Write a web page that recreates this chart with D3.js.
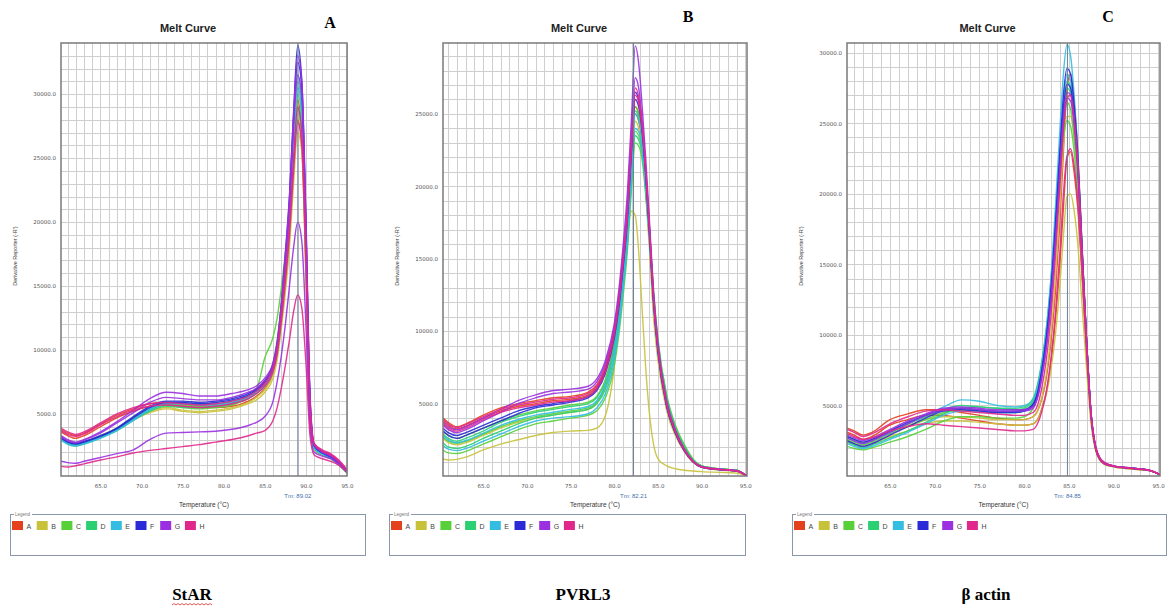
<!DOCTYPE html>
<html>
<head>
<meta charset="utf-8">
<script src="https://cdn.jsdelivr.net/npm/d3@7"></script>
<style>
  body { margin: 0; background: #fff; }
  svg text { font-family: "Liberation Sans", Arial, sans-serif; }
</style>
</head>
<body>
<svg id="chart" width="1172" height="608"></svg>
<script>
// ---- data ----
var geneNames = ["StAR", "PVRL3", "\u03b2 actin"];
var panelLetters = ["A", "B", "C"];
var tmValues = [89.02, 82.21, 84.85];
var xTicks = [65, 70, 75, 80, 85, 90, 95];
var yTicksStAR = [5000, 10000, 15000, 20000, 25000, 30000];
var yTicksPVRL3 = [5000, 10000, 15000, 20000, 25000];
var yTicksActin = [5000, 10000, 15000, 20000, 25000, 30000];

var legendLabels = ["A", "B", "C", "D", "E", "F", "G", "H"];
var legendColors = ["#e4401e", "#c8c23a", "#58d03a", "#2ccf72", "#34bde0", "#2a2ad6", "#9a30e0", "#e0288c"];

// StAR
var tempsStAR = [60.2, 61, 62, 63, 65, 67, 69, 71, 73, 75, 77, 79, 81, 83, 84, 85, 86, 86.5, 87, 87.5, 88, 88.5, 89, 89.5, 90, 90.5, 91, 92, 93, 94, 95];
var groupStAR = [0, 0, 1, 1, 2, 2, 3, 3, 4, 4, 5, 5, 6, 6, 7, 7, 6, 7];
var curvesStAR = [
  [3800, 3500, 3300, 3500, 4200, 4900, 5400, 5800, 5900, 5800, 5700, 5700, 5900, 6300, 6700, 7300, 8600, 10000, 12800, 16200, 20000, 25500, 29500, 27000, 17000, 5500, 2600, 2100, 1800, 1300, 600],
  [3600, 3300, 3100, 3300, 4000, 4700, 5200, 5600, 5700, 5600, 5500, 5500, 5600, 6000, 6400, 7000, 8200, 9600, 12300, 15500, 19000, 24500, 28000, 26000, 16000, 5200, 2500, 2000, 1700, 1200, 500],
  [3200, 2900, 2700, 2800, 3300, 3900, 4600, 5200, 5500, 5300, 5200, 5300, 5500, 5900, 6300, 6900, 8100, 9500, 12000, 15000, 18800, 24000, 28500, 26500, 16500, 5000, 2300, 1900, 1600, 1100, 450],
  [3000, 2700, 2550, 2700, 3200, 3800, 4500, 5100, 5400, 5200, 5100, 5200, 5400, 5800, 6100, 6700, 7800, 9200, 11600, 14500, 18000, 23000, 27000, 25500, 16000, 4800, 2200, 1800, 1500, 1000, 400],
  [3100, 2800, 2600, 2800, 3300, 3900, 4700, 5400, 5800, 5700, 5600, 5700, 6000, 6400, 6900, 7600, 9000, 10800, 13500, 17000, 21000, 26000, 30000, 28000, 18000, 5800, 2400, 1900, 1600, 1100, 450],
  [3000, 2750, 2550, 2700, 3200, 3800, 4600, 5300, 5700, 5500, 5400, 5500, 5700, 6300, 6900, 9400, 11000, 12500, 14800, 17500, 20500, 25000, 28800, 27000, 17500, 5600, 2300, 1800, 1500, 1000, 400],
  [3100, 2750, 2600, 2750, 3250, 3800, 4600, 5300, 5800, 5800, 5700, 5800, 6000, 6400, 6800, 7400, 8700, 10200, 13000, 16500, 20500, 26500, 31000, 28500, 18000, 5600, 2400, 1900, 1600, 1100, 450],
  [2950, 2650, 2500, 2650, 3150, 3700, 4500, 5200, 5600, 5500, 5500, 5600, 5800, 6200, 6600, 7200, 8400, 9800, 12400, 15800, 19500, 25000, 29000, 27000, 17000, 5300, 2300, 1850, 1550, 1050, 400],
  [3050, 2700, 2550, 2700, 3200, 3800, 4600, 5400, 5900, 5900, 5800, 5800, 6000, 6400, 6800, 7300, 8500, 10000, 12900, 16500, 20800, 27000, 31500, 29000, 18500, 5800, 2400, 1900, 1600, 1100, 450],
  [3000, 2650, 2500, 2650, 3100, 3700, 4500, 5300, 5800, 5800, 5700, 5700, 5900, 6300, 6700, 7200, 8400, 9900, 12600, 16200, 20300, 26500, 30500, 28500, 18000, 5600, 2300, 1850, 1550, 1050, 400],
  [3200, 2850, 2700, 2850, 3300, 3900, 4800, 5600, 6000, 6000, 5900, 6000, 6200, 6600, 7000, 7600, 8900, 10500, 13500, 17500, 22000, 28500, 33800, 31000, 20000, 6200, 2600, 2000, 1700, 1200, 500],
  [3100, 2800, 2650, 2800, 3250, 3850, 4700, 5500, 5900, 5900, 5800, 5900, 6100, 6500, 6900, 7500, 8700, 10300, 13200, 17000, 21500, 28000, 32500, 30500, 19500, 6000, 2500, 1950, 1650, 1150, 450],
  [3300, 3000, 2800, 3000, 3600, 4400, 5300, 6200, 6700, 6600, 6400, 6400, 6600, 6900, 7200, 7800, 9000, 10600, 13600, 17600, 22000, 28500, 33000, 31000, 20500, 6500, 2700, 2100, 1800, 1300, 550],
  [3200, 2900, 2750, 2950, 3500, 4300, 5100, 5900, 6300, 6200, 6100, 6100, 6300, 6700, 7000, 7600, 8800, 10300, 13200, 17000, 21300, 27500, 31500, 29800, 19500, 6200, 2600, 2000, 1700, 1200, 500],
  [3900, 3600, 3400, 3600, 4300, 5000, 5500, 5800, 5900, 5800, 5700, 5800, 6000, 6400, 6800, 7400, 8600, 10000, 12700, 16000, 19800, 25000, 29000, 27000, 17500, 5600, 2700, 2200, 1900, 1400, 650],
  [3700, 3400, 3250, 3450, 4150, 4800, 5300, 5600, 5700, 5600, 5500, 5600, 5800, 6200, 6600, 7200, 8300, 9700, 12200, 15300, 19000, 24000, 27800, 26000, 17000, 5400, 2600, 2100, 1800, 1300, 600],
  [1300, 1200, 1150, 1300, 1600, 1900, 2200, 3000, 3500, 3550, 3600, 3650, 3800, 4100, 4350, 4800, 6000, 7500, 9500, 12000, 15000, 18000, 20000, 18500, 12000, 4000, 2000, 1700, 1500, 1100, 500],
  [900, 850, 950, 1100, 1400, 1650, 1950, 2150, 2300, 2450, 2600, 2800, 3000, 3300, 3500, 3700, 4500, 5500, 7000, 8800, 10800, 13000, 14300, 13300, 9000, 3300, 1800, 1500, 1300, 1000, 450]
];

// PVRL3
var tempsPVRL3 = [60.4, 61, 62, 63, 65, 67, 69, 71, 73, 75, 77, 78, 79, 80, 80.5, 81, 81.5, 82, 82.4, 82.8, 83.2, 83.6, 84, 84.5, 85, 86, 87, 88, 89, 90, 92, 94, 95.2];
var groupPVRL3 = [0, 0, 1, 1, 2, 2, 2, 3, 3, 4, 4, 5, 5, 6, 6, 7, 7];
var curvesPVRL3 = [
  [4000, 3700, 3400, 3600, 4200, 4700, 5000, 5200, 5400, 5500, 5800, 6300, 7600, 10000, 12000, 14800, 18000, 22500, 25500, 25000, 23500, 20500, 17000, 12000, 8800, 5000, 3100, 1900, 1100, 700, 500, 400, 0],
  [3800, 3500, 3250, 3450, 4000, 4500, 4800, 5000, 5200, 5300, 5600, 6100, 7300, 9600, 11600, 14300, 17500, 22000, 25000, 24500, 23000, 20000, 16500, 11500, 8400, 4800, 3000, 1800, 1000, 650, 450, 350, 0],
  [1200, 1100, 1150, 1300, 1800, 2200, 2500, 2800, 3000, 3100, 3150, 3300, 4200, 7500, 10500, 14000, 16800, 18300, 18000, 15500, 11500, 7500, 4500, 2200, 1200, 700, 500, 400, 350, 300, 250, 200, 0],
  [2600, 2300, 2150, 2300, 2800, 3300, 3700, 4000, 4200, 4400, 4600, 5000, 6200, 8800, 10800, 13500, 16800, 21500, 24500, 24000, 22500, 19500, 16000, 11000, 8000, 4500, 2800, 1700, 950, 600, 420, 330, 0],
  [2700, 2400, 2250, 2400, 2900, 3400, 3800, 4100, 4300, 4500, 4700, 5100, 6300, 8800, 10800, 13500, 16500, 21000, 23800, 23500, 22500, 20000, 17000, 12500, 9200, 5300, 3300, 2000, 1100, 700, 500, 400, 0],
  [3100, 2800, 2600, 2800, 3300, 3800, 4200, 4500, 4700, 4900, 5100, 5500, 6700, 9200, 11300, 14000, 17200, 22000, 25500, 25000, 23500, 20800, 17500, 12500, 9000, 5100, 3200, 1900, 1050, 650, 480, 380, 0],
  [1800, 1600, 1550, 1700, 2200, 2700, 3200, 3600, 3800, 4000, 4200, 4500, 5400, 7600, 9600, 12300, 15500, 20000, 23000, 22800, 21800, 19500, 16800, 12500, 9300, 5600, 3500, 2200, 1200, 700, 500, 400, 0],
  [2300, 2000, 1900, 2050, 2600, 3100, 3600, 4000, 4200, 4400, 4600, 5000, 6000, 8300, 10300, 13000, 16000, 20500, 23500, 23200, 22300, 20000, 17200, 12800, 9500, 5500, 3400, 2100, 1150, 700, 500, 400, 0],
  [2900, 2600, 2400, 2600, 3100, 3700, 4100, 4400, 4600, 4800, 5000, 5400, 6500, 9000, 11000, 13800, 17000, 21800, 25200, 24800, 23300, 20500, 17200, 12300, 8900, 5000, 3100, 1900, 1050, 650, 470, 370, 0],
  [2100, 1850, 1750, 1900, 2400, 2900, 3400, 3800, 4000, 4100, 4300, 4700, 5700, 8000, 10000, 12800, 16000, 20800, 24000, 23800, 22500, 19800, 16500, 12000, 8700, 5000, 3100, 1900, 1050, 650, 470, 370, 0],
  [2800, 2500, 2300, 2450, 2950, 3500, 3900, 4200, 4400, 4600, 4800, 5200, 6300, 8700, 10700, 13500, 16800, 21500, 25000, 24600, 23200, 20300, 16800, 11800, 8500, 4800, 3000, 1800, 1000, 620, 450, 350, 0],
  [3300, 3000, 2800, 3000, 3500, 4000, 4500, 4800, 5000, 5200, 5500, 6000, 7300, 9800, 11800, 14600, 18000, 23000, 26500, 26000, 24000, 21000, 17300, 12200, 8800, 4900, 3000, 1800, 1000, 620, 450, 350, 0],
  [3100, 2800, 2600, 2800, 3300, 3800, 4300, 4700, 4900, 5100, 5400, 5900, 7100, 9500, 11500, 14300, 17600, 22600, 26000, 25500, 23800, 20800, 17000, 12000, 8600, 4800, 2950, 1750, 980, 600, 440, 340, 0],
  [3700, 3400, 3200, 3400, 4000, 4600, 5200, 5600, 5900, 6000, 6200, 6700, 8000, 10500, 12700, 15800, 19500, 25000, 29700, 28500, 25500, 22000, 18000, 12800, 9200, 5200, 3200, 1900, 1050, 650, 480, 380, 0],
  [3500, 3200, 3000, 3200, 3800, 4400, 5000, 5400, 5700, 5800, 6000, 6500, 7800, 10200, 12300, 15200, 18700, 24000, 27500, 26800, 24500, 21300, 17500, 12400, 8900, 5000, 3100, 1850, 1020, 630, 460, 360, 0],
  [3900, 3600, 3350, 3550, 4100, 4600, 4900, 5100, 5300, 5400, 5700, 6200, 7500, 10000, 12000, 14800, 18200, 23200, 26800, 26200, 24200, 21200, 17500, 12300, 8900, 5000, 3100, 1850, 1020, 630, 460, 360, 0],
  [3600, 3300, 3100, 3300, 3900, 4400, 4700, 4900, 5100, 5200, 5500, 6000, 7200, 9700, 11700, 14500, 17800, 22800, 26300, 25800, 23900, 21000, 17300, 12200, 8800, 4900, 3050, 1800, 1000, 620, 450, 350, 0]
];

// beta actin
var tempsActin = [60.2, 61, 62, 63, 65, 67, 69, 71, 73, 75, 77, 79, 80, 81, 81.5, 82, 82.5, 83, 83.5, 84, 84.4, 84.8, 85.2, 85.6, 86, 86.5, 87, 87.5, 88, 88.5, 89, 90, 92, 94, 95.2];
var groupActin = [0, 0, 1, 1, 2, 2, 3, 3, 4, 4, 5, 5, 6, 6, 7, 7];
var curvesActin = [
  [3400, 3200, 2900, 3100, 4000, 4400, 4700, 4700, 4500, 4300, 4100, 4000, 4000, 4200, 4600, 5500, 7000, 9500, 13000, 18000, 23000, 27500, 28500, 26500, 23000, 16000, 9500, 4300, 2000, 1200, 900, 700, 550, 400, 100],
  [3100, 2900, 2600, 2800, 3600, 4000, 4300, 4300, 4100, 3900, 3700, 3600, 3600, 3700, 4000, 4800, 6000, 8000, 11000, 15000, 19000, 22500, 23000, 21500, 19000, 14000, 8500, 4000, 1900, 1100, 850, 650, 500, 380, 100],
  [2500, 2300, 2100, 2300, 2800, 3200, 3700, 3900, 3900, 3800, 3700, 3600, 3600, 3700, 4000, 4700, 5800, 7500, 10000, 13500, 17000, 19800, 20000, 18800, 16500, 12000, 7500, 3600, 1800, 1100, 800, 650, 500, 380, 100],
  [2700, 2500, 2300, 2500, 3100, 3600, 4000, 4200, 4200, 4100, 4000, 4000, 4000, 4200, 4600, 5600, 7300, 10000, 14000, 19000, 23500, 25500, 25500, 24000, 21000, 15000, 9000, 4200, 2000, 1200, 900, 700, 550, 400, 100],
  [2600, 2400, 2200, 2400, 3000, 3500, 4000, 4500, 4700, 4600, 4500, 4500, 4600, 5200, 6300, 8000, 10000, 13000, 17000, 21500, 24000, 25200, 24800, 23000, 20000, 14500, 8700, 4100, 1900, 1150, 850, 680, 520, 390, 100],
  [2100, 1950, 1850, 2000, 2400, 2800, 3300, 3900, 4200, 4200, 4100, 4100, 4200, 4800, 5800, 7500, 9500, 12500, 16500, 21000, 24500, 26500, 26000, 24000, 21000, 15000, 9000, 4200, 2000, 1200, 900, 700, 550, 400, 100],
  [2400, 2200, 2000, 2200, 2700, 3200, 3800, 4400, 4800, 4900, 4800, 4800, 4900, 5500, 6500, 8200, 10500, 13800, 18000, 22500, 26000, 27500, 27200, 25300, 22000, 15500, 9300, 4300, 2000, 1200, 900, 700, 550, 400, 100],
  [2800, 2600, 2400, 2600, 3200, 3700, 4200, 4700, 5000, 4900, 4800, 4700, 4800, 5300, 6200, 7900, 10200, 13500, 17800, 22500, 26200, 28000, 27600, 25500, 22200, 15700, 9400, 4300, 2000, 1200, 900, 700, 550, 400, 100],
  [2700, 2500, 2300, 2500, 3100, 3700, 4300, 4900, 5400, 5300, 5000, 4900, 5000, 5400, 6300, 8000, 10500, 14000, 19000, 24500, 28500, 30600, 29800, 27000, 23000, 16000, 9500, 4300, 2000, 1200, 900, 700, 550, 400, 100],
  [2300, 2100, 1950, 2100, 2600, 3100, 3700, 4300, 4600, 4600, 4500, 4500, 4600, 5100, 6000, 7700, 10000, 13300, 17800, 22800, 26500, 28500, 28000, 25800, 22400, 15800, 9400, 4300, 2000, 1200, 900, 700, 550, 400, 100],
  [2800, 2600, 2400, 2600, 3200, 3800, 4300, 4700, 4800, 4700, 4600, 4600, 4700, 5100, 5900, 7600, 9900, 13200, 17800, 23000, 27000, 28900, 28500, 26300, 22800, 16000, 9500, 4300, 2000, 1200, 900, 700, 550, 400, 100],
  [2500, 2300, 2100, 2300, 2900, 3500, 4100, 4600, 4700, 4600, 4500, 4500, 4600, 5000, 5800, 7400, 9700, 12900, 17300, 22300, 26000, 27800, 27500, 25500, 22200, 15700, 9400, 4300, 2000, 1200, 900, 700, 550, 400, 100],
  [2900, 2700, 2500, 2700, 3300, 3900, 4400, 4800, 4900, 4800, 4700, 4700, 4700, 4900, 5600, 7100, 9300, 12500, 16800, 21800, 25500, 27200, 27000, 25200, 22000, 15600, 9400, 4400, 2100, 1250, 950, 720, 560, 410, 100],
  [2700, 2500, 2300, 2500, 3100, 3700, 4300, 4700, 4800, 4700, 4600, 4600, 4600, 4800, 5500, 7000, 9100, 12200, 16400, 21300, 25000, 26800, 26600, 24800, 21700, 15400, 9300, 4400, 2100, 1250, 950, 720, 560, 410, 100],
  [3300, 3100, 2800, 3000, 3700, 4200, 4600, 4700, 4600, 4500, 4400, 4300, 4300, 4500, 5000, 6300, 8300, 11300, 15500, 20500, 24500, 26800, 27000, 25300, 22300, 15800, 9500, 4400, 2100, 1250, 950, 720, 560, 410, 100],
  [3000, 2800, 2600, 2700, 3200, 3500, 3700, 3600, 3500, 3400, 3300, 3200, 3200, 3300, 3700, 4600, 6000, 8300, 11500, 15800, 20000, 22700, 23200, 22000, 19500, 14300, 8700, 4100, 1900, 1150, 850, 680, 520, 390, 100]
];

// ---- drawing ----
var svg = d3.select("#chart");
var plotTop = 43, plotBottom = 476;

var panels = [
  { temps: tempsStAR, curves: curvesStAR, groups: groupStAR, yTicks: yTicksStAR,
    x0: 61, x1: 347, xDom: [60.2, 95], yDom: [150, 34000],
    legend: [10, 365], letterX: 330, letterY: 28, nameX: 192 },
  { temps: tempsPVRL3, curves: curvesPVRL3, groups: groupPVRL3, yTicks: yTicksPVRL3,
    x0: 443, x1: 747, xDom: [60.4, 95.2], yDom: [0, 29900],
    legend: [389, 745], letterX: 688, letterY: 22, nameX: 583 },
  { temps: tempsActin, curves: curvesActin, groups: groupActin, yTicks: yTicksActin,
    x0: 847, x1: 1160, xDom: [60.2, 95.2], yDom: [0, 30700],
    legend: [792, 1166], letterX: 1108, letterY: 22, nameX: 986 }
];

function drawPanel(p, i) {
  var x = d3.scaleLinear().domain(p.xDom).range([p.x0, p.x1]);
  var y = d3.scaleLinear().domain(p.yDom).range([plotBottom, plotTop]);
  var g = svg.append("g");
  var cx = (p.x0 + p.x1) / 2;

  // title and panel letter
  g.append("text").attr("x", cx - 16).attr("y", 32)
      .attr("text-anchor", "middle").attr("font-size", 11).attr("font-weight", "bold")
      .attr("fill", "#222").text("Melt Curve");
  g.append("text").attr("x", p.letterX).attr("y", p.letterY)
      .attr("text-anchor", "middle").attr("font-size", 16).attr("font-weight", "bold")
      .style("font-family", "'Liberation Serif', 'Times New Roman', serif")
      .text(panelLetters[i]);

  // grid: 1 degree and 1000 units
  var vGrid = d3.range(Math.ceil(p.xDom[0]), p.xDom[1] + 0.01, 1);
  var hGrid = d3.range(1000, p.yDom[1], 1000);
  g.selectAll(".vg").data(vGrid).enter().append("line")
      .attr("x1", function(d) { return Math.round(x(d)) + 0.5; })
      .attr("x2", function(d) { return Math.round(x(d)) + 0.5; })
      .attr("y1", plotTop).attr("y2", plotBottom)
      .attr("stroke", "#cfcfcf").attr("stroke-width", 1);
  g.selectAll(".hg").data(hGrid).enter().append("line")
      .attr("y1", function(d) { return Math.round(y(d)) + 0.5; })
      .attr("y2", function(d) { return Math.round(y(d)) + 0.5; })
      .attr("x1", p.x0).attr("x2", p.x1)
      .attr("stroke", "#cfcfcf").attr("stroke-width", 1);

  // curves
  var clipId = "clip" + i;
  svg.append("clipPath").attr("id", clipId).append("rect")
      .attr("x", p.x0).attr("y", plotTop).attr("width", p.x1 - p.x0).attr("height", plotBottom - plotTop);
  var line = d3.line()
      .x(function(d) { return x(d[0]); })
      .y(function(d) { return y(d[1]); })
      .curve(d3.curveMonotoneX);
  g.append("g").attr("clip-path", "url(#" + clipId + ")")
    .selectAll("path").data(p.curves).enter().append("path")
      .attr("d", function(vals) { return line(d3.zip(p.temps, vals)); })
      .attr("fill", "none")
      .attr("stroke", function(vals, k) { return legendColors[p.groups[k]]; })
      .attr("stroke-width", 1.4)
      .attr("stroke-opacity", 0.9);

  // Tm marker
  g.append("line").attr("x1", x(tmValues[i])).attr("x2", x(tmValues[i]))
      .attr("y1", plotTop).attr("y2", plotBottom)
      .attr("stroke", "#6d7f9a").attr("stroke-width", 1);
  g.append("text").attr("x", x(tmValues[i])).attr("y", 498)
      .attr("text-anchor", "middle").attr("font-size", 6).attr("fill", "#3f6fae")
      .text("Tm: " + tmValues[i].toFixed(2));

  // frame
  g.append("rect").attr("x", p.x0).attr("y", plotTop)
      .attr("width", p.x1 - p.x0).attr("height", plotBottom - plotTop)
      .attr("fill", "none").attr("stroke", "#7a7a7a").attr("stroke-width", 1.5);

  // axes
  var xAxis = d3.axisBottom(x).tickValues(xTicks).tickSize(0).tickPadding(8)
      .tickFormat(function(d) { return d.toFixed(1); });
  var xa = g.append("g").attr("transform", "translate(0," + plotBottom + ")").call(xAxis);
  var yAxis = d3.axisLeft(y).tickValues(p.yTicks).tickSize(0).tickPadding(5)
      .tickFormat(function(d) { return d.toFixed(1); });
  var ya = g.append("g").attr("transform", "translate(" + p.x0 + ",0)").call(yAxis);
  [xa, ya].forEach(function(a) {
    a.select(".domain").remove();
    a.selectAll("text").attr("font-size", 5.5).attr("fill", "#555")
        .style("font-family", "'DejaVu Sans', sans-serif");
  });

  g.append("text").attr("x", cx).attr("y", 507)
      .attr("text-anchor", "middle").attr("font-size", 6.5).attr("fill", "#333")
      .text("Temperature (\u00b0C)");
  g.append("text")
      .attr("transform", "translate(" + (p.x0 - 44) + "," + 256 + ") rotate(-90)")
      .attr("text-anchor", "middle").attr("font-size", 5.5).attr("fill", "#444")
      .text("Derivative Reporter (-R')");

  // legend box
  var lg = g.append("g");
  lg.append("rect").attr("x", p.legend[0] + 0.5).attr("y", 514.5)
      .attr("width", p.legend[1] - p.legend[0]).attr("height", 41)
      .attr("fill", "none").attr("stroke", "#8a96aa").attr("stroke-width", 1);
  lg.append("rect").attr("x", p.legend[0] + 4).attr("y", 511).attr("width", 18).attr("height", 6)
      .attr("fill", "#fff");
  lg.append("text").attr("x", p.legend[0] + 5).attr("y", 516)
      .attr("font-size", 4.5).attr("fill", "#777").text("Legend");
  var items = lg.selectAll(".item").data(legendLabels).enter().append("g")
      .attr("transform", function(d, k) { return "translate(" + (p.legend[0] + 2 + k * 24.7) + ",521)"; });
  items.append("rect").attr("width", 11).attr("height", 9)
      .attr("fill", function(d, k) { return legendColors[k]; });
  items.append("text").attr("x", 14.5).attr("y", 7.5)
      .attr("font-size", 7).attr("fill", "#444").text(function(d) { return d; });

  // gene name
  g.append("text").attr("x", p.nameX).attr("y", 600)
      .attr("text-anchor", "middle").attr("font-size", 17).attr("font-weight", "bold")
      .style("font-family", "'Liberation Serif', 'Times New Roman', serif")
      .text(geneNames[i]);
}

panels.forEach(drawPanel);

// spell-check squiggle under StAR
var sq = "M172,605";
for (var k = 1; k <= 20; k++) sq += " L" + (172 + k * 2) + "," + (k % 2 ? 603.5 : 605);
svg.append("path").attr("d", sq).attr("fill", "none").attr("stroke", "#e03030").attr("stroke-width", 0.8);
</script>
</body>
</html>
